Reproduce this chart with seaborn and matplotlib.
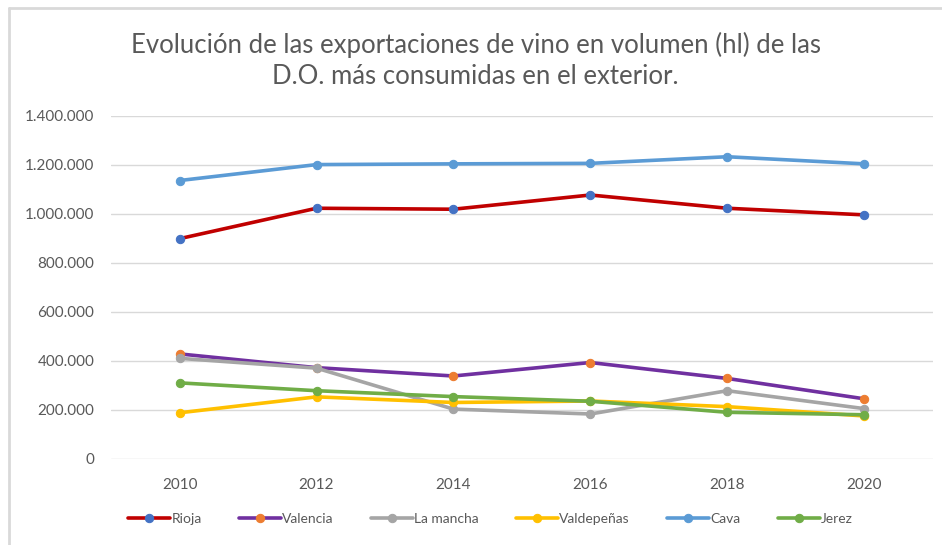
import matplotlib
matplotlib.use("Agg")
import matplotlib.pyplot as plt
import matplotlib.ticker as mticker
import seaborn as sns
import pandas as pd

years = [2010, 2012, 2014, 2016, 2018, 2020]
series = ["Rioja", "Valencia", "La mancha", "Valdepeñas", "Cava", "Jerez"]

rioja = [898000, 1022000, 1018000, 1076000, 1022000, 995000]
valencia = [428000, 372000, 338000, 393000, 328000, 245000]
la_mancha = [410000, 370000, 203000, 183000, 278000, 205000]
valdepenas = [188000, 253000, 230000, 236000, 213000, 175000]
cava = [1135000, 1200000, 1203000, 1205000, 1232000, 1203000]
jerez = [310000, 278000, 254000, 235000, 190000, 180000]

line_colors = ["#C00000", "#7030A0", "#A5A5A5", "#FFC000", "#5B9BD5", "#70AD47"]
marker_colors = ["#4472C4", "#ED7D31", "#A5A5A5", "#FFC000", "#5B9BD5", "#70AD47"]

values = [rioja, valencia, la_mancha, valdepenas, cava, jerez]
df = pd.DataFrame({"year": years * len(series),
                   "serie": [s for s in series for _ in years],
                   "hl": [v for vals in values for v in vals]})

sns.set_style("white")
plt.rcParams["font.family"] = ["Lato", "DejaVu Sans"]

fig = plt.figure(figsize=(9.42, 5.45), dpi=100)
ax = fig.add_axes([0.118, 0.158, 0.872, 0.630])

for name, lc, mc in zip(series, line_colors, marker_colors):
    sns.lineplot(data=df[df.serie == name], x="year", y="hl", ax=ax,
                 color=lc, lw=2.6, marker="o", markersize=6,
                 markerfacecolor=mc, markeredgecolor=mc, label=name)

ax.set_xlim(2009, 2021)
ax.set_ylim(0, 1400000)
ax.set_xticks(years)
ax.yaxis.set_major_locator(mticker.MultipleLocator(200000))
ax.yaxis.set_major_formatter(mticker.FuncFormatter(
    lambda v, p: f"{int(v):,}".replace(",", ".")))
ax.grid(axis="y", color="#D9D9D9", lw=1)
ax.set_axisbelow(True)
for s in ax.spines.values():
    s.set_visible(False)
ax.tick_params(axis="both", length=0, colors="#595959", labelsize=11)
ax.tick_params(axis="y", pad=12)
ax.tick_params(axis="x", pad=14)
ax.set_xlabel("")
ax.set_ylabel("")

ax.legend(loc="upper center", bbox_to_anchor=(0.462, -0.12), ncol=6,
          frameon=False, fontsize=10, labelcolor="#595959",
          handlelength=3, handletextpad=0.1, columnspacing=2.7)

fig.text(0.505, 0.89, "Evolución de las exportaciones de vino en volumen (hl) de las\nD.O. más consumidas en el exterior.",
         ha="center", va="center", fontsize=18.5, color="#595959", linespacing=1.3)

# chart border (top and left visible in the original)
fig.add_artist(plt.Line2D([9 / 942, 1], [1 - 8 / 545, 1 - 8 / 545], color="#D9D9D9", lw=2))
fig.add_artist(plt.Line2D([9 / 942, 9 / 942], [0, 1 - 8 / 545], color="#D9D9D9", lw=2))

fig.savefig("out.png", dpi=100)
